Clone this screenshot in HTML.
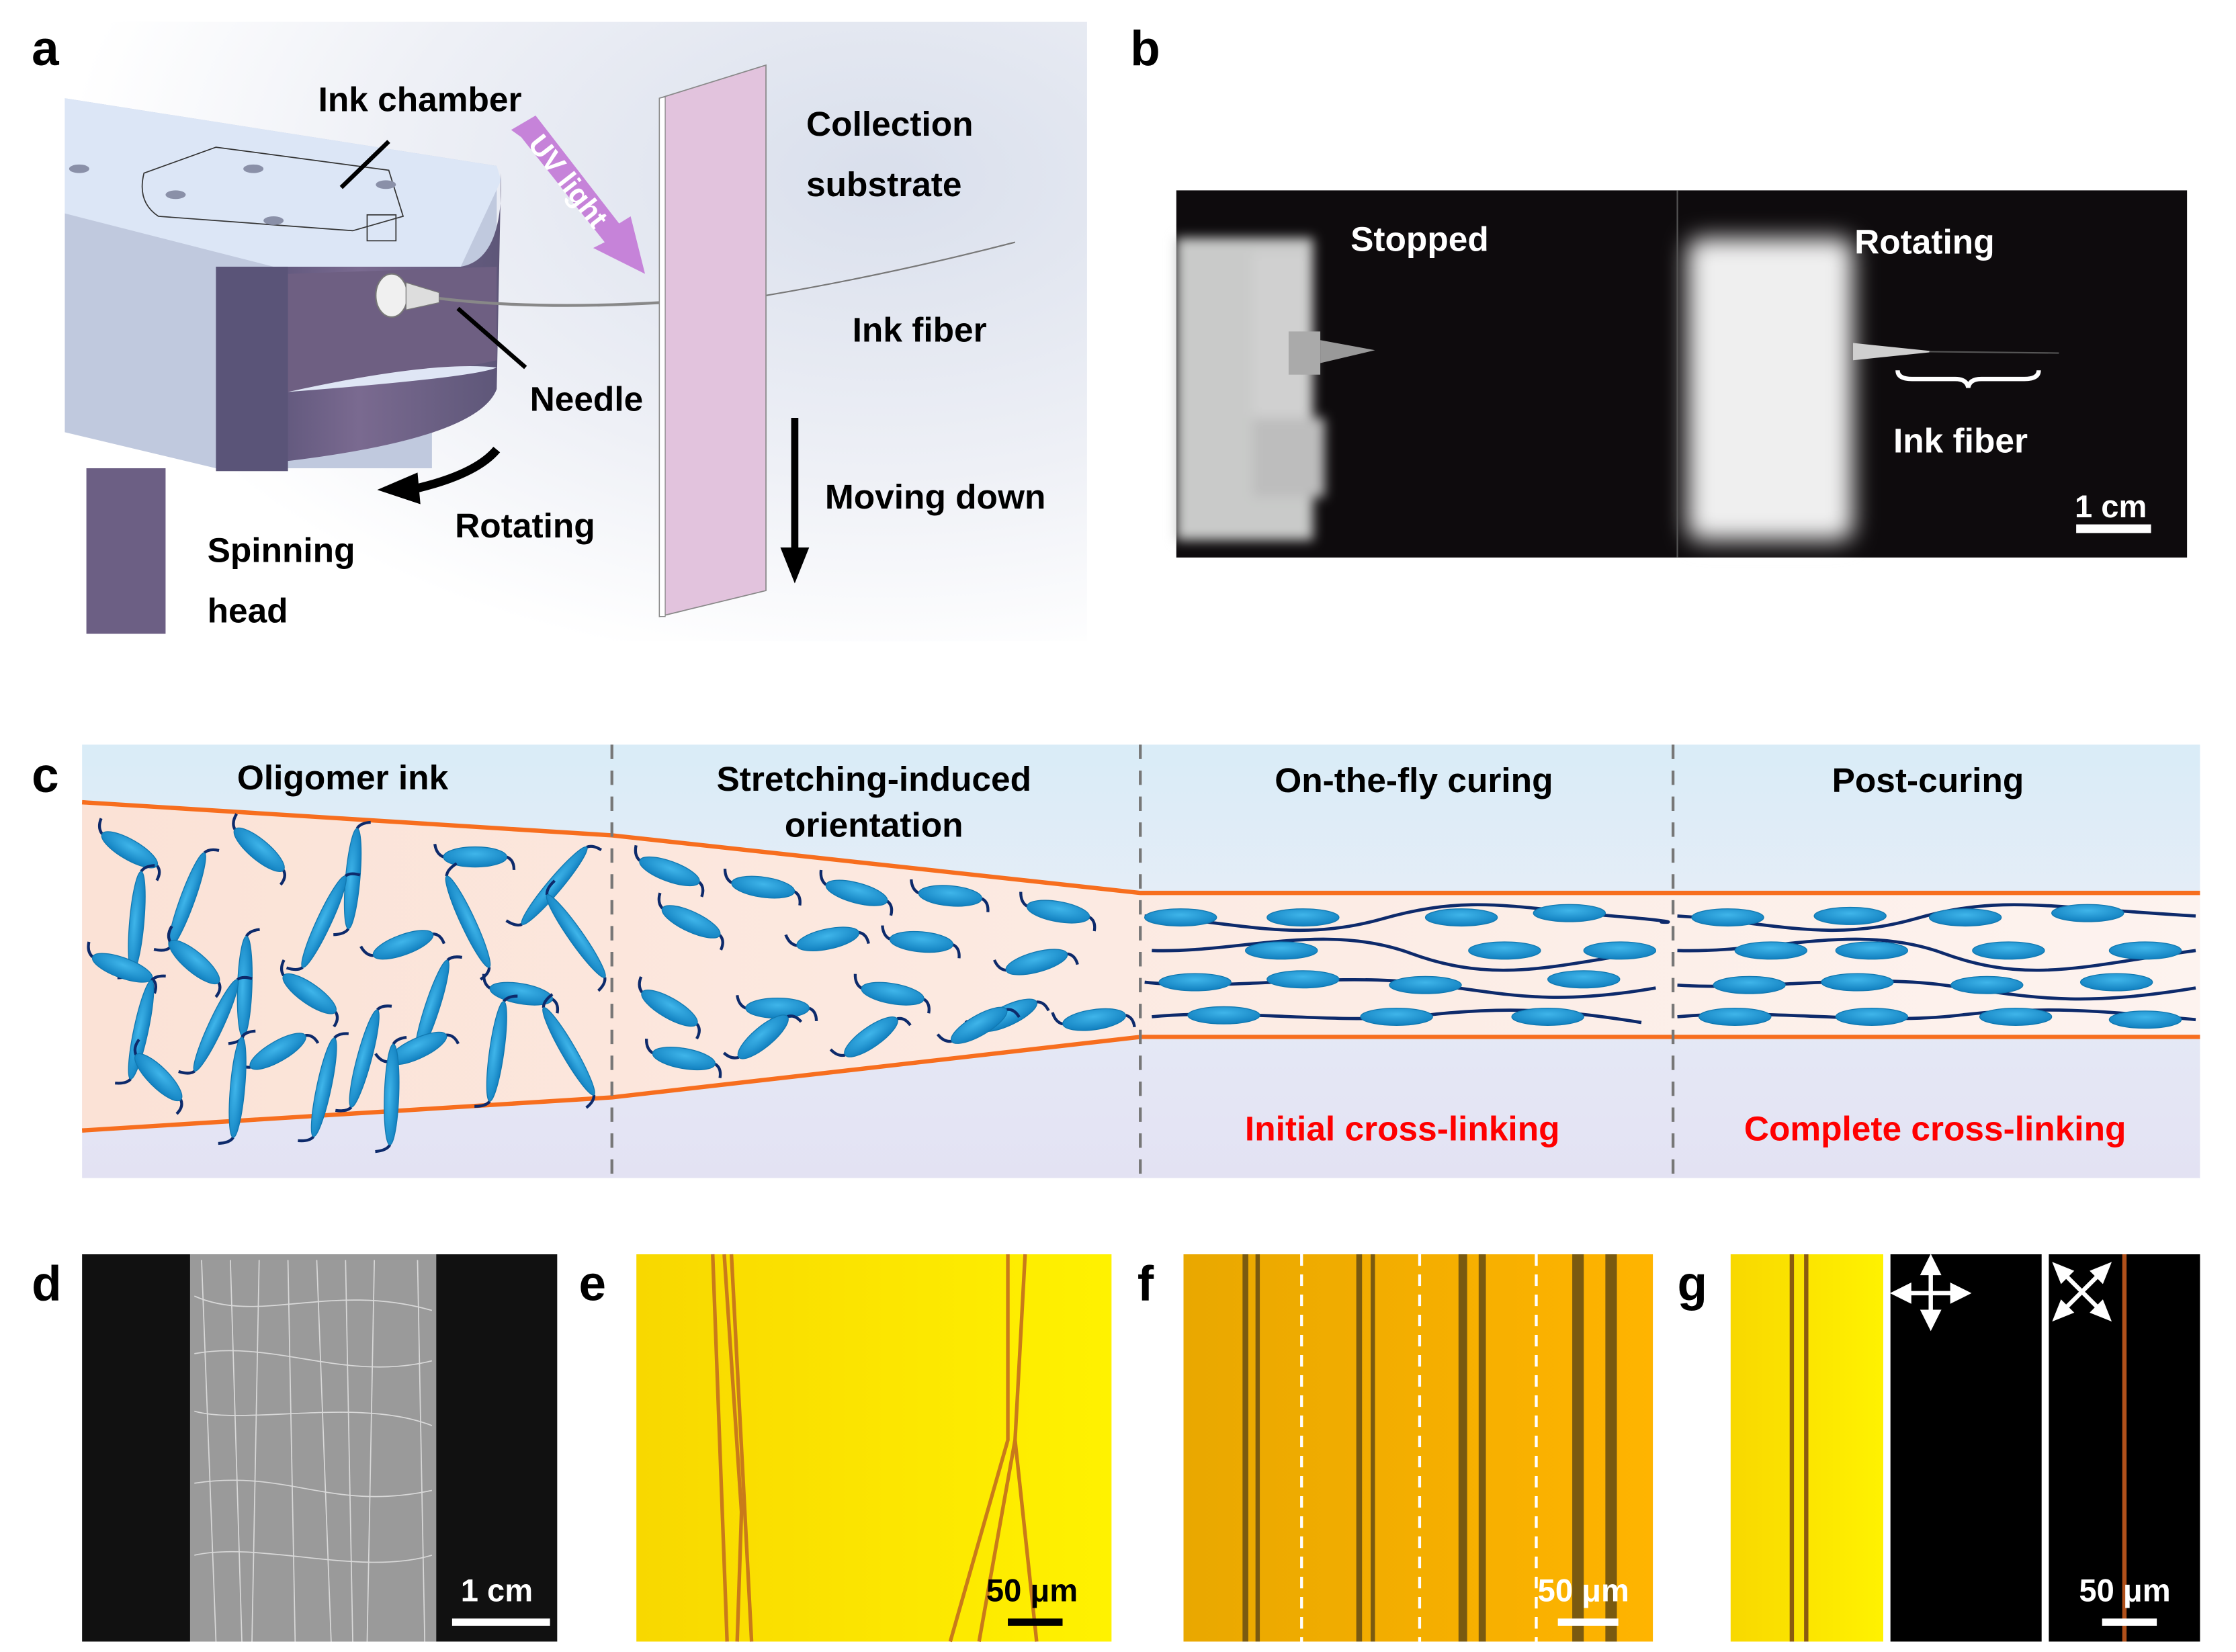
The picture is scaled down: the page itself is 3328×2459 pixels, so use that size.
<!DOCTYPE html>
<html><head><meta charset="utf-8"><style>
html,body{margin:0;padding:0;background:#fff}
svg{display:block}
text{font-family:"Liberation Sans",Arial,sans-serif;font-weight:bold}
</style></head><body>
<svg width="3328" height="2459" viewBox="0 0 1553 1147" xmlns="http://www.w3.org/2000/svg">
<defs>
<filter id="bl" x="-20%" y="-20%" width="140%" height="140%"><feGaussianBlur stdDeviation="4"/></filter>
<filter id="bl2" x="-20%" y="-20%" width="140%" height="140%"><feGaussianBlur stdDeviation="8"/></filter>
<radialGradient id="bgA" cx="0.8" cy="0.25" r="0.8"><stop offset="0" stop-color="#d9dfec"/><stop offset="0.6" stop-color="#eef0f6"/><stop offset="1" stop-color="#ffffff"/></radialGradient>
<linearGradient id="front" x1="0" x2="1"><stop offset="0" stop-color="#4e4a6e"/><stop offset="0.5" stop-color="#7a6a90"/><stop offset="1" stop-color="#5d5678"/></linearGradient>
<linearGradient id="cbg" x1="0" y1="0" x2="0" y2="1"><stop offset="0" stop-color="#d9ecf7"/><stop offset="0.4" stop-color="#e6edf7"/><stop offset="1" stop-color="#e3e2f3"/></linearGradient>
<linearGradient id="fib" x1="0" x2="1"><stop offset="0" stop-color="#fbe2d6"/><stop offset="1" stop-color="#fdf3ef"/></linearGradient>
<radialGradient id="eg" cx="0.5" cy="0.35" r="0.6"><stop offset="0" stop-color="#3fb5ea"/><stop offset="1" stop-color="#1483c2"/></radialGradient>
<g id="m"><path d="M-22,0 q-5,-2 -6,-9 M22,0 q5,2 5,9" stroke="#0d2a6b" stroke-width="2" fill="none"/><ellipse rx="22" ry="7" fill="url(#eg)" stroke="#1178b0" stroke-width="0.6"/></g>
<g id="r"><path d="M-35,0 q-4,-2 -5,-10 M35,0 q4,2 5,9" stroke="#0d2a6b" stroke-width="2" fill="none"/><ellipse rx="35" ry="5" fill="url(#eg)" stroke="#1178b0" stroke-width="0.6"/></g>
<g id="h"><ellipse rx="25" ry="6" fill="url(#eg)" stroke="#1178b0" stroke-width="0.6"/></g>
<linearGradient id="yel" x1="0" x2="1"><stop offset="0" stop-color="#f8d800"/><stop offset="1" stop-color="#fff200"/></linearGradient>
<linearGradient id="ora" x1="0" x2="1"><stop offset="0" stop-color="#e9a800"/><stop offset="1" stop-color="#ffb400"/></linearGradient>
</defs>

<!-- Panel a -->
<rect x="45" y="15" width="710" height="430" fill="url(#bgA)"/>
<polygon points="45,68 345,115 345,180 300,210 300,325 150,325 45,300" fill="#c0c9de"/>
<polygon points="45,68 345,115 348,125 320,185 190,185 45,148" fill="#dce6f6"/>
<path d="M190,185 L320,185 Q350,180 348,120 L345,270 Q330,310 150,325 L150,185 Z" fill="url(#front)"/>
<rect x="150" y="185" width="50" height="142" fill="#5a5478"/>
<path d="M200,190 L345,185 L345,250 Q300,260 200,272 Z" fill="#6e5f82"/>
<path d="M200,272 Q300,250 345,255 Q330,262 200,272Z" fill="#dfe6f5"/>
<rect x="60" y="325" width="55" height="115" fill="#6c5f84"/>
<path d="M100,120 L150,102 L270,118 L280,150 L245,160 L110,150 Q95,140 100,120Z" fill="none" stroke="#333" stroke-width="0.8"/>
<g fill="#8a90a8"><ellipse cx="176" cy="117" rx="7" ry="3"/><ellipse cx="268" cy="128" rx="7" ry="3"/><ellipse cx="122" cy="135" rx="7" ry="3"/><ellipse cx="190" cy="153" rx="7" ry="3"/><ellipse cx="55" cy="117" rx="7" ry="3"/></g>
<rect x="255" y="149" width="20" height="18" fill="none" stroke="#333" stroke-width="0.8"/>
<ellipse cx="272" cy="205" rx="11" ry="15" fill="#f0f0f0" stroke="#777"/>
<path d="M282,196 L305,203 L305,210 L282,215Z" fill="#ddd" stroke="#777" stroke-width="0.6"/>
<path d="M305,207 Q370,215 458,210" stroke="#888" stroke-width="2" fill="none"/>
<path d="M532,205 Q620,190 705,168" stroke="#777" stroke-width="1" fill="none"/>
<line x1="237" y1="130" x2="270" y2="98" stroke="#000" stroke-width="3"/>
<line x1="318" y1="214" x2="365" y2="255" stroke="#000" stroke-width="3"/>
<polygon points="355,90 372,80 430,155 438,150 448,190 412,172 420,168 362,95" fill="#c683d9"/>
<text x="0" y="0" transform="translate(366,100) rotate(52)" font-size="20" fill="#fff">UV light</text>
<polygon points="458,68 532,45 532,410 458,428" fill="#e2c3dd" stroke="#888" stroke-width="0.8"/>
<polygon points="458,68 462,67 462,428 458,428" fill="#fff" stroke="#888" stroke-width="0.6"/>
<path d="M345,312 Q330,330 285,340" stroke="#000" stroke-width="6" fill="none"/>
<polygon points="262,340 290,328 292,350" fill="#000"/>
<line x1="552" y1="290" x2="552" y2="385" stroke="#000" stroke-width="5"/>
<polygon points="542,380 562,380 552,405" fill="#000"/>
<g font-size="24" fill="#000">
<text x="221" y="77">Ink chamber</text>
<text x="560" y="94">Collection</text>
<text x="560" y="136">substrate</text>
<text x="592" y="237">Ink fiber</text>
<text x="368" y="285">Needle</text>
<text x="573" y="353">Moving down</text>
<text x="316" y="373">Rotating</text>
<text x="144" y="390">Spinning</text>
<text x="144" y="432">head</text>
</g>
<text x="22" y="45" font-size="34">a</text>
<text x="785" y="45" font-size="34">b</text>

<!-- Panel b -->
<rect x="817" y="132" width="702" height="255" fill="#0e0b0d"/>
<g filter="url(#bl)">
<rect x="817" y="165" width="95" height="210" fill="#c9cac9"/>
<rect x="870" y="175" width="40" height="115" fill="#d0d0d0"/>
<rect x="870" y="290" width="50" height="55" fill="#bdbdbd"/>
</g>
<rect x="895" y="230" width="22" height="30" fill="#aaa"/>
<polygon points="917,236 955,243 917,252" fill="#999"/>
<g filter="url(#bl2)"><rect x="1172" y="165" width="115" height="210" fill="#efefef" rx="10"/></g>
<path d="M1287,238 L1345,244 L1287,250Z" fill="#cfcfcf"/>
<line x1="1340" y1="244" x2="1430" y2="245" stroke="#555" stroke-width="1"/>
<line x1="1165" y1="132" x2="1165" y2="387" stroke="#555" stroke-width="1"/>
<path d="M1318,257 q0,6 10,6 h30 q8,0 9,6 q1,-6 9,-6 h30 q10,0 10,-6" stroke="#fff" stroke-width="3" fill="none"/>
<g font-size="24" fill="#fff">
<text x="938" y="174">Stopped</text>
<text x="1288" y="176">Rotating</text>
<text x="1315" y="314">Ink fiber</text>
<text x="1441" y="359" font-size="22">1 cm</text>
</g>
<rect x="1442" y="364" width="52" height="6" fill="#fff"/>

<!-- Panel c -->
<rect x="57" y="517" width="1471" height="301" fill="url(#cbg)"/>
<polygon points="57,557 425,580 792,620 1528,620 1528,720 792,720 425,762 57,785" fill="url(#fib)"/>
<polyline points="57,557 425,580 792,620 1528,620" fill="none" stroke="#f76e1e" stroke-width="3"/>
<polyline points="57,785 425,762 792,720 1528,720" fill="none" stroke="#f76e1e" stroke-width="3"/>
<g stroke="#777" stroke-width="2" stroke-dasharray="10,8"><line x1="425" y1="517" x2="425" y2="818"/><line x1="792" y1="517" x2="792" y2="818"/><line x1="1162" y1="517" x2="1162" y2="818"/></g>
<g>
<use href="#m" transform="translate(90,590) rotate(30)"/>
<use href="#r" transform="translate(245,610) rotate(-85)"/>
<use href="#m" transform="translate(180,590) rotate(40)"/>
<use href="#m" transform="translate(330,595) rotate(0)"/>
<use href="#r" transform="translate(385,615) rotate(-50)"/>
<use href="#r" transform="translate(95,640) rotate(-85)"/>
<use href="#r" transform="translate(130,625) rotate(-70)"/>
<use href="#r" transform="translate(225,640) rotate(-65)"/>
<use href="#r" transform="translate(325,640) rotate(65)"/>
<use href="#m" transform="translate(85,672) rotate(20)"/>
<use href="#m" transform="translate(135,668) rotate(40)"/>
<use href="#r" transform="translate(170,685) rotate(-88)"/>
<use href="#m" transform="translate(280,656) rotate(-20)"/>
<use href="#r" transform="translate(400,650) rotate(55)"/>
<use href="#r" transform="translate(300,700) rotate(-72)"/>
<use href="#m" transform="translate(362,690) rotate(10)"/>
<use href="#m" transform="translate(215,690) rotate(35)"/>
<use href="#r" transform="translate(98,715) rotate(-78)"/>
<use href="#r" transform="translate(150,712) rotate(-65)"/>
<use href="#r" transform="translate(253,735) rotate(-75)"/>
<use href="#m" transform="translate(193,730) rotate(-30)"/>
<use href="#m" transform="translate(290,728) rotate(-25)"/>
<use href="#r" transform="translate(345,730) rotate(-82)"/>
<use href="#r" transform="translate(395,730) rotate(60)"/>
<use href="#r" transform="translate(165,755) rotate(-85)"/>
<use href="#m" transform="translate(110,748) rotate(45)"/>
<use href="#r" transform="translate(272,760) rotate(-88)"/>
<use href="#r" transform="translate(225,755) rotate(-78)"/>
</g>
<g>
<use href="#m" transform="translate(465,605) rotate(20)"/>
<use href="#m" transform="translate(530,616) rotate(8)"/>
<use href="#m" transform="translate(595,620) rotate(15)"/>
<use href="#m" transform="translate(660,622) rotate(5)"/>
<use href="#m" transform="translate(735,633) rotate(10)"/>
<use href="#m" transform="translate(480,640) rotate(25)"/>
<use href="#m" transform="translate(575,652) rotate(-12)"/>
<use href="#m" transform="translate(640,654) rotate(5)"/>
<use href="#m" transform="translate(720,668) rotate(-15)"/>
<use href="#m" transform="translate(465,700) rotate(30)"/>
<use href="#m" transform="translate(540,700) rotate(0)"/>
<use href="#m" transform="translate(620,690) rotate(10)"/>
<use href="#m" transform="translate(700,705) rotate(-25)"/>
<use href="#m" transform="translate(760,708) rotate(-8)"/>
<use href="#m" transform="translate(475,735) rotate(10)"/>
<use href="#m" transform="translate(530,720) rotate(-40)"/>
<use href="#m" transform="translate(605,720) rotate(-35)"/>
<use href="#m" transform="translate(680,712) rotate(-30)"/>
</g>
<g stroke="#0d2a6b" stroke-width="2.2" fill="none">
<path d="M795,636 C860,640 900,655 960,638 S1050,630 1120,636 1140,640 1158,640"/>
<path d="M800,660 C860,662 920,640 980,662 S1080,670 1150,660"/>
<path d="M795,682 C850,688 920,676 980,682 S1070,700 1150,686"/>
<path d="M800,706 C860,700 930,712 990,705 S1090,702 1140,710"/>
<path d="M1165,636 C1230,640 1270,655 1330,638 S1420,630 1525,636"/>
<path d="M1165,660 C1230,662 1290,640 1350,662 S1450,670 1525,660"/>
<path d="M1165,684 C1220,688 1290,676 1350,684 S1440,700 1525,686"/>
<path d="M1165,706 C1230,700 1300,712 1360,705 S1460,702 1525,708"/>
</g>
<g>
<use href="#h" transform="translate(820,637)"/><use href="#h" transform="translate(905,637)"/><use href="#h" transform="translate(1015,637)"/><use href="#h" transform="translate(1090,634)"/>
<use href="#h" transform="translate(890,660)"/><use href="#h" transform="translate(1045,660)"/><use href="#h" transform="translate(1125,660)"/>
<use href="#h" transform="translate(830,682)"/><use href="#h" transform="translate(905,680)"/><use href="#h" transform="translate(990,684)"/><use href="#h" transform="translate(1100,680)"/>
<use href="#h" transform="translate(850,705)"/><use href="#h" transform="translate(970,706)"/><use href="#h" transform="translate(1075,706)"/>
<use href="#h" transform="translate(1200,637)"/><use href="#h" transform="translate(1285,636)"/><use href="#h" transform="translate(1365,637)"/><use href="#h" transform="translate(1450,634)"/>
<use href="#h" transform="translate(1230,660)"/><use href="#h" transform="translate(1300,660)"/><use href="#h" transform="translate(1395,660)"/><use href="#h" transform="translate(1490,660)"/>
<use href="#h" transform="translate(1215,684)"/><use href="#h" transform="translate(1290,682)"/><use href="#h" transform="translate(1380,684)"/><use href="#h" transform="translate(1470,682)"/>
<use href="#h" transform="translate(1205,706)"/><use href="#h" transform="translate(1300,706)"/><use href="#h" transform="translate(1400,706)"/><use href="#h" transform="translate(1490,708)"/>
</g>
<g font-size="24" fill="#000">
<text x="238" y="548" text-anchor="middle">Oligomer ink</text>
<text x="607" y="549" text-anchor="middle">Stretching-induced</text>
<text x="607" y="581" text-anchor="middle">orientation</text>
<text x="982" y="550" text-anchor="middle">On-the-fly curing</text>
<text x="1339" y="550" text-anchor="middle">Post-curing</text>
</g>
<g font-size="24" fill="#f00">
<text x="974" y="792" text-anchor="middle">Initial cross-linking</text>
<text x="1344" y="792" text-anchor="middle">Complete cross-linking</text>
</g>
<text x="22" y="550" font-size="34">c</text>

<!-- Panel d -->
<rect x="57" y="871" width="330" height="269" fill="#111"/>
<rect x="132" y="871" width="171" height="269" fill="#9a9a9a"/>
<g stroke="#e8e8e8" stroke-width="0.8" fill="none" opacity="0.8">
<path d="M135,900 C180,920 230,890 300,910"/><path d="M135,940 C190,930 240,960 300,945"/><path d="M135,980 C170,990 250,970 300,990"/><path d="M135,1030 C200,1020 230,1050 300,1035"/><path d="M135,1080 C180,1070 250,1095 300,1080"/><path d="M140,875 L150,1140"/><path d="M180,875 L175,1140"/><path d="M220,875 L230,1140"/><path d="M260,875 L255,1140"/><path d="M290,875 L295,1140"/><path d="M160,875 L168,1140"/><path d="M240,875 L245,1140"/><path d="M200,875 L205,1140"/>
</g>
<text x="320" y="1112" font-size="22" fill="#fff">1 cm</text>
<rect x="314" y="1124" width="68" height="5" fill="#fff"/>
<text x="22" y="903" font-size="34">d</text>

<!-- Panel e -->
<rect x="442" y="871" width="330" height="269" fill="url(#yel)"/>
<g stroke="#c97a1a" stroke-width="2.5" fill="none">
<path d="M495,871 L505,1140"/><path d="M503,871 L515,1050 L512,1140"/><path d="M508,871 L522,1140"/><path d="M700,871 L700,1000 L660,1140"/><path d="M712,871 L705,1000 L680,1140"/><path d="M705,1000 L720,1140"/>
</g>
<text x="685" y="1112" font-size="22" fill="#000">50 μm</text>
<rect x="700" y="1124" width="38" height="5" fill="#000"/>
<text x="402" y="903" font-size="34">e</text>

<!-- Panel f -->
<rect x="822" y="871" width="326" height="269" fill="url(#ora)"/>
<g fill="#7a5a10">
<rect x="863" y="871" width="4" height="269"/><rect x="872" y="871" width="3" height="269"/>
<rect x="942" y="871" width="4" height="269"/><rect x="952" y="871" width="3" height="269"/>
<rect x="1013" y="871" width="6" height="269"/><rect x="1027" y="871" width="5" height="269"/>
<rect x="1092" y="871" width="8" height="269"/><rect x="1115" y="871" width="8" height="269"/>
</g>
<g stroke="#fff" stroke-width="2" stroke-dasharray="8,6"><line x1="904" y1="871" x2="904" y2="1140"/><line x1="986" y1="871" x2="986" y2="1140"/><line x1="1067" y1="871" x2="1067" y2="1140"/></g>
<text x="1068" y="1112" font-size="22" fill="#fff">50 μm</text>
<rect x="1082" y="1124" width="42" height="5" fill="#fff"/>
<text x="790" y="903" font-size="34">f</text>

<!-- Panel g -->
<rect x="1202" y="871" width="106" height="269" fill="url(#yel)"/>
<rect x="1243" y="871" width="3" height="269" fill="#8a5a10"/><rect x="1253" y="871" width="3" height="269" fill="#8a5a10"/>
<rect x="1313" y="871" width="105" height="269" fill="#000"/>
<rect x="1423" y="871" width="105" height="269" fill="#000"/>
<rect x="1474" y="871" width="3" height="269" fill="#b0501a"/>
<g stroke="#fff" stroke-width="3" fill="#fff">
<line x1="1341" y1="880" x2="1341" y2="915"/><line x1="1320" y1="898" x2="1362" y2="898"/>
<polygon points="1341,874 1336,884 1346,884"/><polygon points="1341,921 1336,911 1346,911"/><polygon points="1316,898 1326,893 1326,903"/><polygon points="1366,898 1356,893 1356,903"/>
<line x1="1431" y1="882" x2="1461" y2="912"/><line x1="1461" y1="882" x2="1431" y2="912"/>
<polygon points="1428,879 1438,883 1432,889"/><polygon points="1464,879 1460,889 1454,883"/><polygon points="1428,915 1432,905 1438,911"/><polygon points="1464,915 1454,911 1460,905"/>
</g>
<text x="1444" y="1112" font-size="22" fill="#fff">50 μm</text>
<rect x="1460" y="1124" width="38" height="5" fill="#fff"/>
<text x="1165" y="903" font-size="34">g</text>
</svg>
</body></html>
